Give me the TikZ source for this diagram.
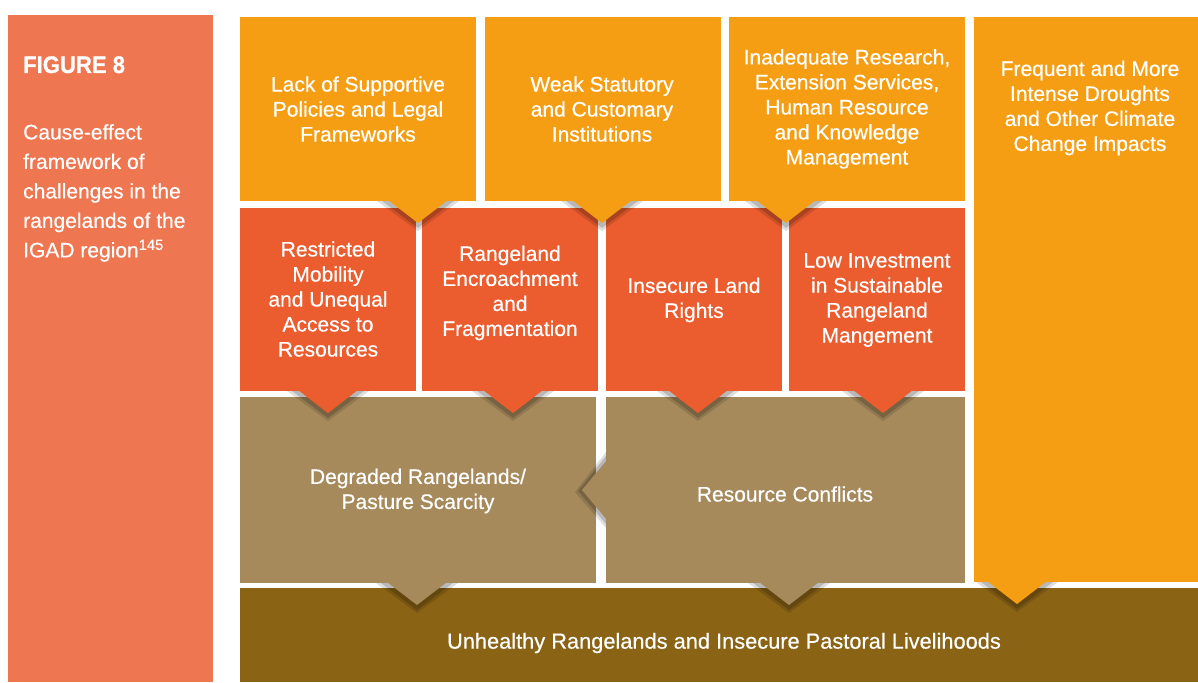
\documentclass[tikz,border=0pt]{standalone}
\usepackage{fontspec}
\setmainfont{Liberation Sans}
\newfontfamily\medfont[FakeBold=0.5]{Liberation Sans}
\newfontfamily\heavyfont[FakeBold=0.8]{Liberation Sans Bold}
\definecolor{cOrange}{HTML}{F59E13}
\definecolor{cRed}{HTML}{EB5C2F}
\definecolor{cTan}{HTML}{A68A5C}
\definecolor{cBrown}{HTML}{8A6315}
\definecolor{cPanel}{HTML}{EE7651}
\newcommand\ArrDown[3]{%
  \fill[black,opacity=0.13] ({#1-41},#2) -- ({#1+41},#2) -- (#1,{#2+30}) -- cycle;
  \fill[black,opacity=0.17] ({#1-36},#2) -- ({#1+36},#2) -- (#1,{#2+27}) -- cycle;
  \fill[#3] ({#1-30},{#2-1}) -- ({#1+30},{#2-1}) -- (#1,{#2+22}) -- cycle;}
\begin{document}
\begin{tikzpicture}[x=1pt,y=-1pt,
  boxshape/.style={inner sep=0, outer sep=0, anchor=north west, draw=none},
  txt/.style={text=white, align=center, inner sep=0, font=\medfont\fontsize{21}{25}\selectfont}]
\useasboundingbox[fill=white] (0,0) rectangle (1198,682);
% left panel
\node[boxshape, fill=cPanel, minimum width=205, minimum height=667] (panel) at (8,15) {};
\node[anchor=base west, inner sep=0, text=white, font=\heavyfont\fontsize{24}{28}\selectfont] (fig) at (23,73) {\scalebox{0.92}[1]{FIGURE 8}};
\node[anchor=north west, inner sep=0, text=white, align=left, font=\medfont\fontsize{21}{29.5}\selectfont] (cap) at (23,124)
  {Cause-effect\\framework of\\challenges in the\\rangelands of the\\IGAD region\textsuperscript{145}};
% row 1
\node[boxshape, fill=cOrange, minimum width=236, minimum height=184] (b1) at (240,17) {};
\node[boxshape, fill=cOrange, minimum width=236, minimum height=184] (b2) at (485,17) {};
\node[boxshape, fill=cOrange, minimum width=236, minimum height=184] (b3) at (729,17) {};
\node[boxshape, fill=cOrange, minimum width=224, minimum height=565] (b4) at (974,17) {};
% row 2
\node[boxshape, fill=cRed, minimum width=176, minimum height=183] (r1) at (240,208) {};
\node[boxshape, fill=cRed, minimum width=176, minimum height=183] (r2) at (422,208) {};
\node[boxshape, fill=cRed, minimum width=176, minimum height=183] (r3) at (606,208) {};
\node[boxshape, fill=cRed, minimum width=176, minimum height=183] (r4) at (789,208) {};
% row 3
\node[boxshape, fill=cTan, minimum width=356, minimum height=186] (d1) at (240,397) {};
\node[boxshape, fill=cTan, minimum width=359, minimum height=186] (d2) at (606,397) {};
% row 4
\node[boxshape, fill=cBrown, minimum width=958, minimum height=94] (u) at (240,588) {};
% arrows
\ArrDown{418}{201}{cOrange}
\ArrDown{602}{201}{cOrange}
\ArrDown{786}{201}{cOrange}
\ArrDown{1017}{582}{cOrange}
\ArrDown{328}{391}{cRed}
\ArrDown{513}{391}{cRed}
\ArrDown{698}{391}{cRed}
\ArrDown{883}{391}{cRed}
\ArrDown{417}{583}{cTan}
\ArrDown{789}{583}{cTan}
% left-pointing arrow of Resource Conflicts
\fill[black,opacity=0.13] (606,452) -- (606,528) -- (575,492) -- cycle;
\fill[black,opacity=0.17] (606,456) -- (606,524) -- (578,491) -- cycle;
\fill[cTan] (607,460) -- (607,520) -- (582,490) -- cycle;
% texts
\node[txt] (t1) at (358,109) {Lack of Supportive\\Policies and Legal\\Frameworks};
\node[txt] (t2) at (602,109) {Weak Statutory\\and Customary\\Institutions};
\node[txt] (t3) at (847,109) {Inadequate Research,\\Extension Services,\\Human Resource\\and Knowledge\\Management};
\node[txt] (t4) at (1090,108) {Frequent and More\\Intense Droughts\\and Other Climate\\Change Impacts};
\node[txt] (s1) at (328,299) {Restricted\\Mobility\\and Unequal\\Access to\\Resources};
\node[txt] (s2) at (510,293) {Rangeland\\Encroachment\\and\\Fragmentation};
\node[txt] (s3) at (694,300) {Insecure Land\\Rights};
\node[txt] (s4) at (877,300) {Low Investment\\in Sustainable\\Rangeland\\Mangement};
\node[txt] (e1) at (418,491) {Degraded Rangelands/\\Pasture Scarcity};
\node[txt] (e2) at (785,494) {Resource Conflicts};
\node[txt, font=\medfont\fontsize{21.8}{25}\selectfont] (f1) at (724,643) {Unhealthy Rangelands and Insecure Pastoral Livelihoods};
\end{tikzpicture}
\end{document}
